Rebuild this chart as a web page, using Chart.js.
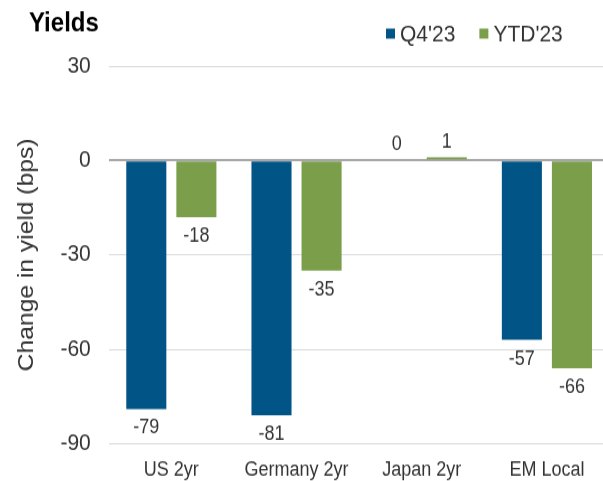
<!DOCTYPE html>
<html>
<head>
<meta charset="utf-8">
<script src="https://cdn.jsdelivr.net/npm/chart.js@4/dist/chart.umd.min.js"></script>
<style>
  body { margin: 0; background: #fff; overflow: hidden; }
  #wrap { width: 603px; height: 481px; overflow: hidden; }
  /* drawn a bit shorter and stretched in height, like the taller text of the original;
     a little wider than the page because the last category runs past the right edge */
  #yield-chart { display: block; }
</style>
</head>
<body>
<div id="wrap">
  <canvas id="yield-chart" width="610" height="444" style="width:610px;height:496.7px"></canvas>
</div>
<script>
var chartTitle = 'Yields';
var categories = ['US 2yr', 'Germany 2yr', 'Japan 2yr', 'EM Local'];
var seriesNames = ["Q4'23", "YTD'23"];
var q4Values = [-79, -81, 0, -57];
var ytdValues = [-18, -35, 1, -66];
var yTicks = [30, 0, -30, -60, -90];

var fontName = '"Liberation Sans", Arial, sans-serif';
var textColor = '#333333';
var blue = '#005486';
var green = '#7a9e4a';

// title top left and legend top right, drawn on the canvas
var headerPlugin = {
  id: 'header',
  afterDraw: function(chart) {
    var ctx = chart.ctx;
    ctx.save();
    ctx.fillStyle = '#000';
    ctx.font = 'bold 24px ' + fontName;
    ctx.textBaseline = 'middle';
    ctx.textAlign = 'left';
    ctx.fillText(chartTitle, 29, 21);

    var x = 386;
    var y = 30;
    ctx.font = '21px ' + fontName;
    chart.data.datasets.forEach(function(ds) {
      ctx.fillStyle = ds.backgroundColor;
      ctx.fillRect(x, y - 4.5, 9, 9);
      ctx.fillStyle = textColor;
      ctx.fillText(ds.label, x + 14, y + 1);
      x = x + 14 + ctx.measureText(ds.label).width + 24;
    });
    ctx.restore();
  }
};

// writes the value next to the end of every bar
var barLabels = {
  id: 'barLabels',
  afterDatasetsDraw: function(chart) {
    var ctx = chart.ctx;
    ctx.save();
    ctx.font = '18px ' + fontName;
    ctx.fillStyle = textColor;
    ctx.textAlign = 'center';
    chart.data.datasets.forEach(function(ds, i) {
      var meta = chart.getDatasetMeta(i);
      meta.data.forEach(function(bar, j) {
        var v = ds.data[j];
        if (v < 0) {
          ctx.textBaseline = 'top';
          ctx.fillText(String(v), bar.x, bar.y + 8);
        } else {
          ctx.textBaseline = 'bottom';
          ctx.fillText(String(v), bar.x, bar.y - 5);
        }
      });
    });
    ctx.restore();
  }
};

var chartCanvas = document.getElementById('yield-chart').getContext('2d');
var myChart = new Chart(chartCanvas, {
  type: 'bar',
  data: {
    labels: categories,
    datasets: [
      { label: seriesNames[0], data: q4Values, backgroundColor: blue, barPercentage: 0.8, categoryPercentage: 0.8 },
      { label: seriesNames[1], data: ytdValues, backgroundColor: green, barPercentage: 0.8, categoryPercentage: 0.8 }
    ]
  },
  options: {
    responsive: false,
    animation: false,
    layout: { padding: { top: 59, right: 0.5, bottom: 0, left: 10 } },
    plugins: {
      legend: { display: false },
      tooltip: { enabled: false }
    },
    scales: {
      x: {
        grid: { display: false, drawTicks: false },
        border: { display: false },
        ticks: { color: textColor, font: { size: 18, family: fontName }, padding: 13 }
      },
      y: {
        min: -90,
        max: 30,
        afterBuildTicks: function(axis) {
          axis.ticks = yTicks.map(function(v) { return { value: v }; });
        },
        grid: {
          color: function(c) { return c.tick && c.tick.value === 0 ? '#a6a6a6' : '#d9d9d9'; },
          lineWidth: function(c) { return c.tick && c.tick.value === 0 ? 2 : 1; },
          drawTicks: false
        },
        border: { display: false },
        ticks: { color: textColor, font: { size: 21, family: fontName }, padding: 18 },
        title: {
          display: true,
          text: 'Change in yield (bps)',
          color: textColor,
          font: { size: 22, family: fontName },
          padding: { top: 4, bottom: 2 }
        }
      }
    }
  },
  plugins: [barLabels, headerPlugin]
});
</script>
</body>
</html>
